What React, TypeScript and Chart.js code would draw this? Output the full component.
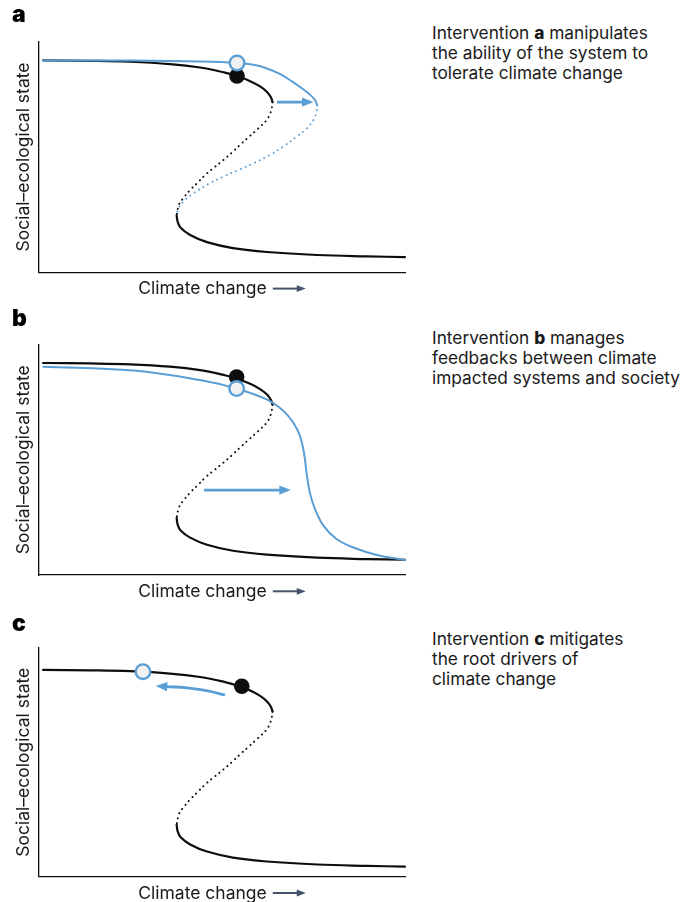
import React, { useEffect, useRef } from "react";
import { Chart, registerables } from "chart.js";
Chart.register(...registerables);

const FONT = "Inter, 'Noto Sans', 'DejaVu Sans', sans-serif";
const INK = "#1a1a1a";
const BLACK = "#0d0d0d";
const BLUE = "#5a9ed6";
const SLATE = "#46536a";
const CIRCLE_FILL = "#f1f1f1";

// ---- values (x: climate change 0-100, y: social-ecological state 0-100)
const blackUpper = [
  [1.1, 91.9], [13.9, 91.7], [24.9, 91.3], [35.8, 90.3], [44.0, 88.8], [50.8, 86.6],
  [54.1, 85.1], [57.7, 82.9], [60.4, 80.6], [62.3, 78.2], [63.4, 75.8], [63.8, 73.8],
];
const blackMiddle = [
  [63.8, 73.8], [63.6, 71.3], [63.1, 68.6], [62.2, 66.0], [60.8, 63.7], [59.3, 61.5],
  [57.2, 58.5], [54.9, 55.2], [52.7, 51.9], [50.4, 48.7], [47.9, 45.5], [45.6, 42.5],
  [43.4, 39.0], [41.3, 35.7], [39.4, 32.1], [38.3, 29.6], [37.6, 24.8],
];
const blackLower = [
  [37.6, 24.8], [37.9, 21.8], [38.7, 19.3], [41.3, 16.2], [45.9, 13.1], [53.0, 10.5],
  [62.3, 8.8], [76.0, 7.5], [89.6, 6.9], [100, 6.6],
];
const blueUpperA = [
  [1.1, 91.9], [24.9, 91.8], [44.0, 91.4], [54.1, 90.8], [59.0, 89.9], [62.3, 88.4],
  [65.8, 86.0], [69.4, 82.5], [72.1, 79.5], [74.0, 77.1], [75.4, 74.7], [76.0, 72.5],
];
const blueMiddleA = [
  [76.0, 72.5], [75.8, 69.5], [75.1, 66.5], [74.0, 63.9], [72.7, 61.7], [70.4, 58.8],
  [66.7, 54.5], [63.1, 50.9], [58.6, 47.3], [54.5, 44.4], [50.4, 41.5], [46.3, 38.3],
  [42.3, 34.3], [39.9, 31.4], [38.1, 27.8], [37.6, 24.8],
];
const blueCurveB = [
  [1.2, 90.3], [25.8, 88.6], [44.0, 84.5], [54.0, 80.8], [62.2, 76.1], [66.8, 71.1],
  [69.5, 66.0], [71.3, 60.3], [72.4, 53.0], [73.1, 44.4], [74.0, 35.7], [75.4, 28.6],
  [77.7, 21.4], [81.3, 15.6], [85.9, 11.9], [92.3, 8.7], [100, 6.5],
];
const blackDotA = [54.1, 85.1];
const blueCircleA = [54.1, 90.8];
const blackDotB = [54.0, 85.8];
const blueCircleB = [54.0, 80.8];
const blackDotC = [55.4, 84.8];
const blueCircleC = [28.4, 91.1];
const arrowA = [[65.0, 73.8], [72.0, 73.8]];
const arrowB = [[45.1, 36.8], [65.8, 36.8]];
const arrowC = [[50.8, 81.0], [45.8, 82.9], [40.4, 84.1], [34.9, 84.6]];

const yTitle = "Social–ecological state";
const xTitle = "Climate change";

const pts = (arr: number[][]) => arr.map(([x, y]) => ({ x, y }));

function solid(data: number[][], color: string, width: number, order: number) {
  return {
    data: pts(data), borderColor: color, borderWidth: width, pointRadius: 0,
    tension: 0.4, fill: false, order, borderCapStyle: "round",
  };
}
function dotted(data: number[][], color: string, width: number, order: number) {
  return {
    data: pts(data), borderColor: color, borderWidth: width, pointRadius: 0,
    tension: 0.4, fill: false, order, borderDash: [0.1, 5.1], borderCapStyle: "round",
  };
}
function blackDot(p: number[], order: number) {
  return {
    data: pts([p]), showLine: false, pointRadius: 7.8, pointBackgroundColor: BLACK,
    pointBorderWidth: 0, pointBorderColor: BLACK, order,
  };
}
function blueCircle(p: number[], order: number) {
  return {
    data: pts([p]), showLine: false, pointRadius: 7.3, pointBackgroundColor: CIRCLE_FILL,
    pointBorderWidth: 2.4, pointBorderColor: BLUE, order,
  };
}
function arrow(data: number[][], order: number) {
  return {
    data: pts(data), borderColor: BLUE, borderWidth: 2.8, pointRadius: 0, tension: 0.4,
    fill: false, order, borderCapStyle: "butt", arrowHead: true,
  };
}

const arrowHeadPlugin = {
  id: "arrowHeads",
  afterDatasetsDraw(chart: any) {
    const ctx = chart.ctx;
    chart.data.datasets.forEach((ds: any, i: number) => {
      if (!ds.arrowHead) return;
      const meta = chart.getDatasetMeta(i);
      const n = meta.data.length;
      const end = meta.data[n - 1];
      const prev = meta.data[n - 2];
      const ang = Math.atan2(end.y - prev.y, end.x - prev.x);
      const L = 11, H = 4.6;
      ctx.save();
      ctx.translate(end.x, end.y);
      ctx.rotate(ang);
      ctx.beginPath();
      ctx.moveTo(L, 0);
      ctx.lineTo(-0.5, -H);
      ctx.lineTo(-0.5, H);
      ctx.closePath();
      ctx.fillStyle = ds.borderColor;
      ctx.fill();
      ctx.restore();
    });
  },
};

const xTitlePlugin = {
  id: "xTitleArrow",
  afterDraw(chart: any) {
    const { ctx, chartArea } = chart;
    ctx.save();
    ctx.font = `17.5px ${FONT}`;
    const w = ctx.measureText(xTitle).width;
    const gap = 6, len = 33;
    const cx = (chartArea.left + chartArea.right) / 2;
    const x0 = cx - (w + gap + len) / 2;
    ctx.fillStyle = INK;
    ctx.textAlign = "left";
    ctx.textBaseline = "alphabetic";
    ctx.fillText(xTitle, x0, chartArea.bottom + 22);
    const ay = chartArea.bottom + 16.3;
    const ax0 = x0 + w + gap;
    const ax1 = ax0 + len;
    ctx.strokeStyle = SLATE;
    ctx.lineWidth = 2;
    ctx.beginPath();
    ctx.moveTo(ax0, ay);
    ctx.lineTo(ax1 - 7, ay);
    ctx.stroke();
    ctx.fillStyle = SLATE;
    ctx.beginPath();
    ctx.moveTo(ax1, ay);
    ctx.lineTo(ax1 - 9, ay - 3.4);
    ctx.lineTo(ax1 - 9, ay + 3.4);
    ctx.closePath();
    ctx.fill();
    ctx.restore();
  },
};

type PanelCfg = {
  top: number; height: number; padTop: number; padBottom: number;
  yMin: number; yMax: number; datasets: any[];
};

const panels: PanelCfg[] = [
  {
    top: 0, height: 300, padTop: 41.7, padBottom: 27.7, yMin: 0, yMax: 100,
    datasets: [
      solid(blackUpper, BLACK, 2.2, 6), dotted(blackMiddle, BLACK, 2, 6), solid(blackLower, BLACK, 2.2, 6),
      blackDot(blackDotA, 4),
      solid(blueUpperA, BLUE, 2, 3), dotted(blueMiddleA, BLUE, 1.9, 3),
      arrow(arrowA, 2), blueCircle(blueCircleA, 1),
    ],
  },
  {
    top: 300, height: 310, padTop: 44.3, padBottom: 35, yMin: 0, yMax: 100,
    datasets: [
      solid(blackUpper, BLACK, 2.2, 6), dotted(blackMiddle, BLACK, 2, 6), solid(blackLower, BLACK, 2.2, 6),
      solid(blueCurveB, BLUE, 2, 5),
      blackDot(blackDotB, 3),
      arrow(arrowB, 2), blueCircle(blueCircleB, 1),
    ],
  },
  {
    top: 610, height: 292, padTop: 37.7, padBottom: 25.3, yMin: 2.2, yMax: 101.5,
    datasets: [
      solid(blackUpper, BLACK, 2.2, 6), dotted(blackMiddle, BLACK, 2, 6), solid(blackLower, BLACK, 2.2, 6),
      blackDot(blackDotC, 3),
      arrow(arrowC, 2), blueCircle(blueCircleC, 1),
    ],
  },
];

function PanelChart({ cfg }: { cfg: PanelCfg }) {
  const ref = useRef<HTMLCanvasElement>(null);
  useEffect(() => {
    const chart = new Chart(ref.current as HTMLCanvasElement, {
      type: "line",
      data: { datasets: cfg.datasets as any },
      options: {
        animation: false,
        responsive: false,
        events: [],
        layout: { padding: { left: 0, right: 5, top: cfg.padTop, bottom: cfg.padBottom }, autoPadding: false },
        plugins: { legend: { display: false }, tooltip: { enabled: false }, title: { display: false } },
        elements: { line: { borderJoinStyle: "round" } },
        datasets: { line: { clip: false } } as any,
        scales: {
          x: {
            type: "linear", min: 0, max: 100,
            ticks: { display: false }, grid: { display: false, drawTicks: false },
            border: { display: true, color: BLACK, width: 1.3 },
            title: { display: false },
          },
          y: {
            type: "linear", min: cfg.yMin, max: cfg.yMax,
            ticks: { display: false }, grid: { display: false, drawTicks: false },
            border: { display: true, color: BLACK, width: 1.3 },
            title: {
              display: true, text: yTitle, color: INK,
              font: { family: FONT, size: 17.5, lineHeight: 1.2 },
              padding: { top: 13, bottom: 5 },
            },
          },
        },
      },
      plugins: [arrowHeadPlugin, xTitlePlugin],
    } as any);
    return () => chart.destroy();
  }, []);
  return (
    <canvas
      ref={ref}
      width={410}
      height={cfg.height}
      style={{ position: "absolute", left: 0, top: cfg.top, width: 410, height: cfg.height }}
    />
  );
}

const letterStyle = (top: number): React.CSSProperties => ({
  position: "absolute", left: 12, top, fontFamily: FONT, fontWeight: 900,
  fontSize: 23, lineHeight: "23px", color: "#000",
});
const noteStyle = (top: number): React.CSSProperties => ({
  position: "absolute", left: 432, top, width: 259, fontFamily: FONT,
  fontSize: 17.3, lineHeight: "20px", color: INK, whiteSpace: "nowrap",
});

export default function App() {
  return (
    <div style={{ position: "absolute", left: 0, top: 0, width: 691, height: 902, background: "#fff", overflow: "hidden" }}>
      {panels.map((p, i) => <PanelChart key={i} cfg={p} />)}
      <div style={letterStyle(3)}>a</div>
      <div style={letterStyle(307)}>b</div>
      <div style={letterStyle(612)}>c</div>
      <div style={noteStyle(23)}>
        Intervention <b style={{ fontWeight: 800 }}>a</b> manipulates<br />
        the ability of the system to<br />
        tolerate climate change
      </div>
      <div style={noteStyle(328)}>
        Intervention <b style={{ fontWeight: 800 }}>b</b> manages<br />
        feedbacks between climate<br />
        impacted systems and society
      </div>
      <div style={noteStyle(629)}>
        Intervention <b style={{ fontWeight: 800 }}>c</b> mitigates<br />
        the root drivers of<br />
        climate change
      </div>
    </div>
  );
}
